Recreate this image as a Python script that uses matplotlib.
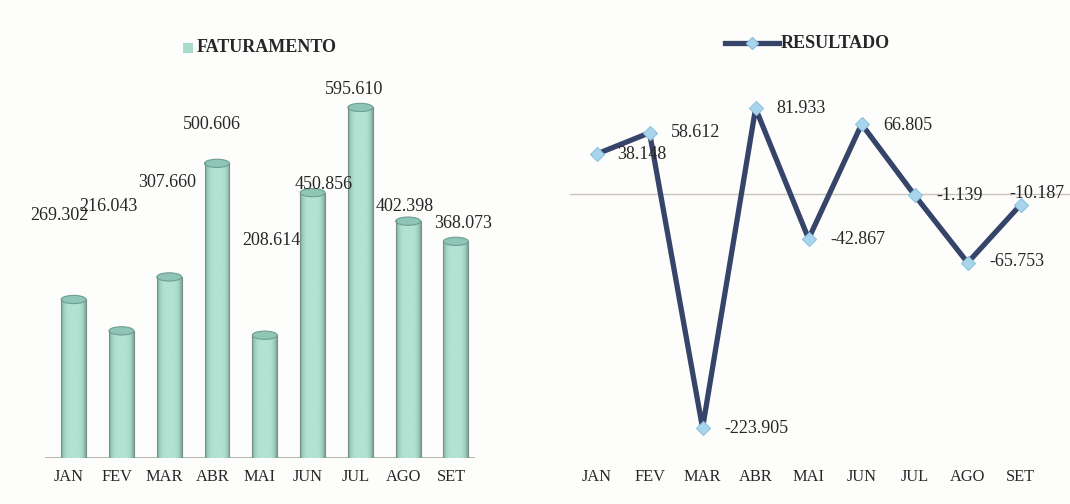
import numpy as np
import matplotlib
matplotlib.use("Agg")
import matplotlib.pyplot as plt
from matplotlib.patches import Ellipse, Rectangle
from matplotlib.lines import Line2D

months = ["JAN", "FEV", "MAR", "ABR", "MAI", "JUN", "JUL", "AGO", "SET"]
faturamento = [269.302, 216.043, 307.660, 500.606, 208.614, 450.856, 595.610, 402.398, 368.073]
resultado = [38.148, 58.612, -223.905, 81.933, -42.867, 66.805, -1.139, -65.753, -10.187]

def fmt(v):
    return f"{v:.3f}"

plt.rcParams["font.family"] = ["Liberation Serif", "DejaVu Serif"]
FS = 13
TFS = 11.8
TXT = "#262626"
BG = "#fdfdfb"

fig = plt.figure(figsize=(10.7, 5.04), dpi=100, facecolor=BG)
W, H = 1070, 504

def axes_px(x0, y_top, x1, y_bot):
    return fig.add_axes([x0 / W, 1 - y_bot / H, (x1 - x0) / W, (y_bot - y_top) / H])

# ---------------- Left: FATURAMENTO (cylinder bars) ----------------
axL = axes_px(45, 46, 475, 458)
axL.set_facecolor("none")
x = np.arange(len(months))
bx = x + 0.1
bw = 0.52
bars = axL.bar(bx, faturamento, width=bw, color="#a9dccb", edgecolor="none", zorder=2)

grad = np.linspace(-1, 1, 256)
shade = 1 - 0.55 * grad ** 4
cmap = matplotlib.colors.LinearSegmentedColormap.from_list("cyl", ["#6f9e92", "#b3e3d3"])
for b in bars:
    x0, w, h = b.get_x(), b.get_width(), b.get_height()
    im = axL.imshow(shade[None, :], cmap=cmap, vmin=0.4, vmax=1.0, aspect="auto",
                    extent=[x0, x0 + w, 0, h], zorder=3, interpolation="bicubic")
    im.set_clip_path(b)
    axL.add_patch(Ellipse((x0 + w / 2, h), w, 14, facecolor="#8fc5b4",
                          edgecolor="#6f9e92", lw=0.8, zorder=4))
    axL.add_patch(Ellipse((x0 + w / 2, 0), w, 14, facecolor="#a9dccb",
                          edgecolor="none", zorder=1))
    axL.plot([x0, x0], [0, h], color="#7a8f8a", lw=0.8, zorder=4)
    axL.plot([x0 + w, x0 + w], [0, h], color="#7a8f8a", lw=0.8, zorder=4)
axL.set_xlim(-0.5, 8.5)
axL.set_ylim(0, 700)

# label offsets (pixels) relative to category / bar top, as placed in the original
lab_dx = [-10, -8, 3, 0, 11, 16, -1, 1, 12]
lab_dy = [84, 124, 94, 39, 95, 8, 18, 15, 18]
for i, v in enumerate(faturamento):
    axL.annotate(fmt(v), (x[i], v), xytext=(lab_dx[i], lab_dy[i]), textcoords="offset pixels",
                 ha="center", va="center", fontsize=FS, color=TXT, zorder=6)

axL.axhline(0, color="#a8a8a8", lw=1.2, zorder=0)
for s in axL.spines.values():
    s.set_visible(False)
axL.set_yticks([])
axL.set_xticks(x)
axL.set_xticklabels(months, fontsize=TFS, color=TXT)
axL.tick_params(axis="x", length=0, pad=8)

fig.text(197 / W, 1 - 48 / H, "FATURAMENTO", fontsize=FS, fontweight="bold", color=TXT,
         ha="left", va="center")
fig.patches.append(Rectangle((183 / W, 1 - 53 / H), 10 / W, 10 / H, transform=fig.transFigure,
                             facecolor="#a9dccb", edgecolor="none"))

# ---------------- Right: RESULTADO (line) ----------------
axR = axes_px(570, 46, 1070, 458)
axR.set_facecolor("none")
axR.set_xlim(-0.5, 8.93)
axR.set_ylim(-252.6, 141.6)
axR.axhline(0, color="#cbc2b8", lw=1.0, zorder=0)
line_c = "#36446a"
axR.plot(x, resultado, color=line_c, lw=3.8, zorder=2, solid_joinstyle="round",
         marker="D", markersize=7.5, markerfacecolor="#a9d5ec", markeredgecolor="#8dc3e0",
         markeredgewidth=0.8)

r_dx = [21, 21, 22, 21, 22, 22, 22, 22, -11]
r_dy = [0, 0, 0, 0, -1, -1, 0, 1, 11]
for i, v in enumerate(resultado):
    axR.annotate(fmt(v), (x[i], v), xytext=(r_dx[i], r_dy[i]), textcoords="offset pixels",
                 ha="left", va="center", fontsize=FS, color=TXT, zorder=6)

for s in axR.spines.values():
    s.set_visible(False)
axR.set_yticks([])
axR.set_xticks(x)
axR.set_xticklabels(months, fontsize=TFS, color=TXT)
axR.tick_params(axis="x", length=0, pad=8)

fig.text(781 / W, 1 - 43 / H, "RESULTADO", fontsize=FS, fontweight="bold", color=TXT,
         ha="left", va="center")
fig.lines.append(Line2D([725 / W, 779 / W], [1 - 43 / H, 1 - 43 / H], transform=fig.transFigure,
                        color=line_c, lw=3.8))
fig.lines.append(Line2D([752 / W], [1 - 43 / H], transform=fig.transFigure, marker="D",
                        markersize=6.5, markerfacecolor="#a9d5ec", markeredgecolor="#8dc3e0",
                        linestyle="none"))

fig.savefig("out.png", dpi=100, facecolor=BG)
